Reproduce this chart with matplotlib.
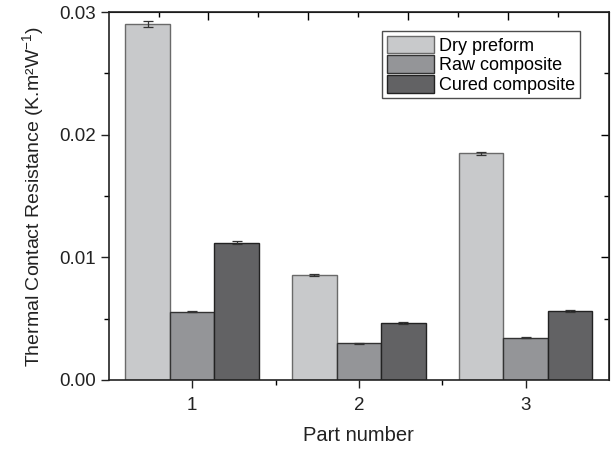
import numpy as np
import matplotlib.pyplot as plt

plt.rcParams['font.family'] = ['Liberation Sans', 'DejaVu Sans']
plt.rcParams['mathtext.default'] = 'regular'

# Data
parts = [1, 2, 3]
dry_preform = [0.0290, 0.00855, 0.0185]
raw_composite = [0.00555, 0.00300, 0.00342]
cured_composite = [0.01120, 0.00465, 0.00562]
dry_err = [0.00025, 0.00008, 0.00012]
raw_err = [0.00005, 0.00004, 0.00004]
cured_err = [0.00015, 0.00006, 0.00006]

fig = plt.figure(figsize=(6.15, 4.49), dpi=100)
ax = fig.add_axes([0.177, 0.154, 0.813, 0.819])

x = np.array(parts, dtype=float)
w = 0.267
series = [
    (dry_preform, dry_err, 'Dry preform', '#c8c9cb', '#6a6a6a'),
    (raw_composite, raw_err, 'Raw composite', '#949598', '#333333'),
    (cured_composite, cured_err, 'Cured composite', '#626264', '#222222'),
]
for k, (vals, err, lab, col, ec) in enumerate(series):
    ax.bar(x + (k - 1) * w, vals, w, color=col, edgecolor=ec, linewidth=1.0,
           label=lab, yerr=err, capsize=3.5,
           error_kw=dict(ecolor='#333333', elinewidth=0.9, capthick=0.9))

ax.set_xlim(0.5, 3.5)
ax.set_ylim(0, 0.03)
ax.set_xticks(parts)
ax.set_xticks([1.5, 2.5], minor=True)
ax.set_yticks([0.0, 0.01, 0.02, 0.03])
ax.set_yticklabels(['0.00', '0.01', '0.02', '0.03'])
ax.set_yticks([0.005, 0.015, 0.025], minor=True)
ax.tick_params(axis='both', which='major', direction='out', length=6, width=1,
               labelsize=13.5, colors='#222222')
ax.tick_params(axis='x', which='major', pad=6)
ax.tick_params(axis='both', which='minor', direction='out', length=3.5, width=1)

# mirrored ticks on top and right
top = ax.secondary_xaxis('top')
top.set_xticks([1.094, 1.694, 2.294, 2.894])
top.set_xticks([0.8, 1.394, 1.994, 2.594, 3.194], minor=True)
top.tick_params(which='major', direction='in', length=6, width=1, labeltop=False)
top.tick_params(which='minor', direction='in', length=3.5, width=1)
right = ax.secondary_yaxis('right')
right.set_yticks([0.01, 0.02])
right.set_yticks([0.005, 0.015, 0.025], minor=True)
right.tick_params(which='major', direction='in', length=6, width=1, labelright=False)
right.tick_params(which='minor', direction='in', length=3.5, width=1)

for sp in ax.spines.values():
    sp.set_linewidth(1.2)
    sp.set_color('#222222')

ax.set_xlabel('Part number', fontsize=14.5, labelpad=9, color='#222222')
ax.set_ylabel('Thermal Contact Resistance (K.m²W$^{-1}$)', fontsize=14,
              labelpad=9, color='#222222')

leg = ax.legend(loc='upper right', bbox_to_anchor=(0.942, 0.948), fontsize=13,
                frameon=True, fancybox=False, edgecolor='#222222',
                handlelength=2.6, handleheight=1.1, handletextpad=0.3,
                borderpad=0.25, labelspacing=0.05, borderaxespad=0.0)
leg.get_frame().set_linewidth(1.0)

plt.savefig('out.png', dpi=100)
plt.close()
